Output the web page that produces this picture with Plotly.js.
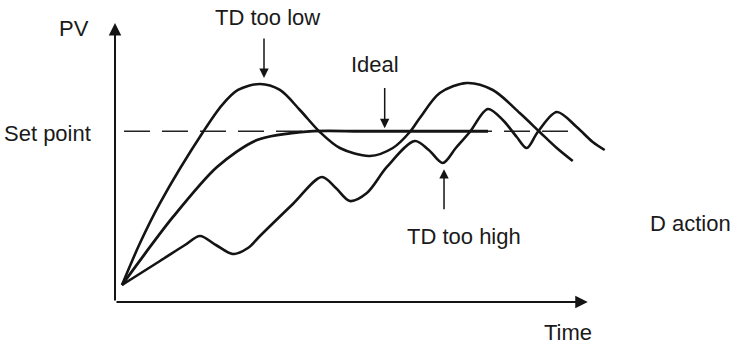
<!DOCTYPE html>
<html>
<head>
<meta charset="utf-8">
<script src="https://cdn.plot.ly/plotly-3.0.1.min.js"></script>
<style>html,body{margin:0;padding:0;background:#fff;}#chart{width:739px;height:346px;}</style>
</head>
<body>
<div id="chart"></div>
<script>
// ---- data (time / PV in arbitrary units) ----
const setPointValue = 61.2;
const setPointTime = [1.9, 96.6];

const idealTime = [1.48, 12.27, 21.58, 30.04, 41.25, 51.83, 65.0, 78.91];
const idealPV   = [6.09, 30.47, 48.39, 58.06, 61.15, 61.2, 61.2, 61.2];

const lowTime = [1.48, 5.29, 9.52, 18.62, 22.64, 26.02, 30.67, 34.88, 39.11, 43.34, 47.57, 53.91, 58.77, 62.37, 64.48, 68.71, 74.42, 79.92, 85.62, 89.85, 93.45, 96.83];
const lowPV   = [6.09, 21.15, 35.48, 60.93, 70.6, 75.99, 78.14, 75.99, 68.82, 60.93, 55.20, 52.33, 55.20, 60.93, 65.95, 74.91, 78.49, 75.99, 67.74, 60.93, 55.20, 50.54];

const highTime = [1.48, 9.51, 14.80, 17.97, 21.35, 24.95, 28.12, 30.66, 37.63, 43.76, 46.72, 49.68, 53.28, 57.51, 63.42, 66.38, 69.34, 72.09, 75.05, 78.86, 82.03, 84.99, 87.10, 89.43, 93.45, 97.67, 101.06, 103.59];
const highPV   = [6.09, 14.70, 20.43, 23.66, 20.43, 17.20, 19.35, 23.66, 35.13, 44.80, 40.86, 36.20, 39.07, 48.39, 57.71, 54.48, 49.82, 55.20, 60.93, 69.18, 65.23, 59.14, 55.20, 60.93, 68.10, 62.72, 57.35, 54.48];

const labels = ["PV", "Set point", "TD too low", "Ideal", "TD too high", "D action", "Time"];

// ---- drawing ----
const ink = '#141414';
const lineStyle = {color: ink, width: 2.6, shape: 'spline', smoothing: 0.9};

const traces = [
  {x: setPointTime, y: [setPointValue, setPointValue], mode: 'lines', line: {color: '#222', width: 1.4, dash: '26px,12px'}, hoverinfo: 'skip'},
  {x: lowTime, y: lowPV, mode: 'lines', line: lineStyle, hoverinfo: 'skip'},
  {x: highTime, y: highPV, mode: 'lines', line: lineStyle, hoverinfo: 'skip'},
  {x: idealTime, y: idealPV, mode: 'lines', line: Object.assign({}, lineStyle, {width: 2.8, smoothing: 0.8}), hoverinfo: 'skip'}
];

const font = {family: '"Liberation Sans", Arial, sans-serif', size: 22, color: '#1a1a1a'};

function txt(text, x, y, xanchor) {
  return {text: text, x: x, y: y, xref: 'paper', yref: 'paper', showarrow: false, xanchor: xanchor || 'center', yanchor: 'middle', font: font};
}
function arrow(x, y, ax, ay, w) {
  return {x: x, y: y, ax: ax, ay: ay, xref: 'x', yref: 'y', axref: 'x', ayref: 'y', text: '', showarrow: true,
          arrowhead: 2, arrowsize: 1.25, arrowwidth: w, arrowcolor: ink, standoff: 0, startstandoff: 0};
}

const annotations = [
  arrow(0, 100, 0, 0, 2),          // PV axis
  arrow(100, 0, 0, 0, 2),          // Time axis
  arrow(31.52, 80.3, 31.52, 95.0, 1.5),
  arrow(57.05, 62.3, 57.05, 77.2, 1.5),
  arrow(69.6, 47.6, 69.6, 32.7, 1.5),
  txt(labels[0], -0.0788, 0.9785),
  txt(labels[1], -0.0423, 0.6039, 'right'),
  txt(labels[2], 0.2942, 1.0197),
  txt(labels[3], 0.5, 0.8513),
  txt(labels[4], 0.6721, 0.2330),
  txt(labels[5], 1.1067, 0.2814),
  txt(labels[6], 0.8721, -0.1093)
];

const layout = {
  width: 739, height: 346,
  margin: {l: 115, r: 104, t: 23, b: 44, pad: 0},
  paper_bgcolor: '#fff', plot_bgcolor: '#fff',
  showlegend: false,
  xaxis: {range: [0, 110], visible: false, fixedrange: true},
  yaxis: {range: [0, 100], visible: false, fixedrange: true},
  annotations: annotations
};

Plotly.newPlot('chart', traces, layout, {staticPlot: true, displayModeBar: false});
</script>
</body>
</html>
